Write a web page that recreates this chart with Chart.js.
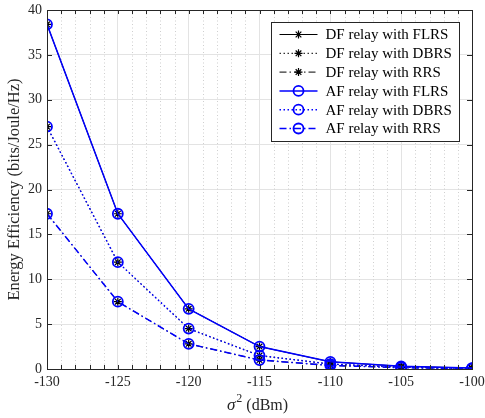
<!DOCTYPE html>
<html>
<head>
<meta charset="utf-8">
<script src="https://cdn.jsdelivr.net/npm/chart.js@4.4.0/dist/chart.umd.min.js"></script>
<style>
  html, body { margin: 0; padding: 0; background: #fff; }
  #wrap { width: 485px; height: 418px; }
</style>
</head>
<body>
<div id="wrap"><canvas id="eeChart"></canvas></div>
<script>
// noise power sigma^2 in dBm
const noiseDbm = [-130, -125, -120, -115, -110, -105, -100];

// energy efficiency (bits/Joule/Hz), DF and AF curves coincide
const dfFlrs = [38.4, 17.3, 6.7, 2.5, 0.8, 0.3, 0.1];
const dfDbrs = [27.0, 11.9, 4.5, 1.5, 0.55, 0.2, 0.07];
const dfRrs  = [17.3, 7.5, 2.8, 1.0, 0.4, 0.15, 0.05];
const afFlrs = [38.4, 17.3, 6.7, 2.5, 0.8, 0.3, 0.1];
const afDbrs = [27.0, 11.9, 4.5, 1.5, 0.55, 0.2, 0.07];
const afRrs  = [17.3, 7.5, 2.8, 1.0, 0.4, 0.15, 0.05];

const seriesLabels = [
    'DF relay with FLRS', 'DF relay with DBRS', 'DF relay with RRS',
    'AF relay with FLRS', 'AF relay with DBRS', 'AF relay with RRS'
];

const FONT = "'Liberation Serif', 'Times New Roman', serif";
const AXIS_COLOR = '#262626';
const SOLID = [];
const DOTTED = [1.5, 2.5];
const DASHDOT = [7, 3, 1.5, 3];

function pts(ys) {
    return noiseDbm.map((x, i) => ({ x: x, y: ys[i] }));
}

function dfSet(label, ys, dash) {
    return {
        label: label, data: pts(ys), borderColor: '#000', backgroundColor: '#000',
        borderWidth: 1, borderDash: dash, pointStyle: 'star', pointRadius: 4,
        pointBorderWidth: 1.2, pointBorderColor: '#000', tension: 0, order: 1
    };
}
function afSet(label, ys, dash) {
    return {
        label: label, data: pts(ys), borderColor: '#0000ff', backgroundColor: 'rgba(0,0,0,0)',
        borderWidth: 1.5, borderDash: dash, pointStyle: 'circle', pointRadius: 5,
        pointBorderWidth: 1.8, pointBorderColor: '#0000ff', tension: 0, order: 0
    };
}

const datasets = [
    dfSet(seriesLabels[0], dfFlrs, SOLID),
    dfSet(seriesLabels[1], dfDbrs, DOTTED),
    dfSet(seriesLabels[2], dfRrs, DASHDOT),
    afSet(seriesLabels[3], afFlrs, SOLID),
    afSet(seriesLabels[4], afDbrs, DOTTED),
    afSet(seriesLabels[5], afRrs, DASHDOT)
];

// dotted minor grid lines on the x axis (every 1 dBm between the majors)
const minorGridPlugin = {
    id: 'minorGrid',
    beforeDatasetsDraw(chart) {
        const ctx = chart.ctx;
        const a = chart.chartArea;
        const xs = chart.scales.x;
        ctx.save();
        ctx.strokeStyle = '#cfcfcf';
        ctx.lineWidth = 1;
        ctx.setLineDash([1, 2.5]);
        ctx.beginPath();
        xs.ticks.forEach(t => {
            if (t.value % 5 === 0) return;
            const px = Math.round(xs.getPixelForValue(t.value)) + 0.5;
            ctx.moveTo(px, a.top); ctx.lineTo(px, a.bottom);
        });
        ctx.stroke();
        ctx.restore();
    }
};

// box around the axes plus inward ticks on all four sides, and the x label
const framePlugin = {
    id: 'frame',
    afterDraw(chart) {
        const ctx = chart.ctx;
        const a = chart.chartArea;
        const xs = chart.scales.x, ys = chart.scales.y;
        ctx.save();
        ctx.strokeStyle = AXIS_COLOR;
        ctx.lineWidth = 1;
        ctx.setLineDash([]);
        ctx.strokeRect(Math.round(a.left) + 0.5, Math.round(a.top) + 0.5,
                       Math.round(a.right - a.left), Math.round(a.bottom - a.top));
        ctx.beginPath();
        xs.ticks.forEach(t => {
            const px = Math.round(xs.getPixelForValue(t.value)) + 0.5;
            const len = 4;
            ctx.moveTo(px, a.bottom); ctx.lineTo(px, a.bottom - len);
            ctx.moveTo(px, a.top); ctx.lineTo(px, a.top + len);
        });
        ys.ticks.forEach(t => {
            const py = Math.round(ys.getPixelForValue(t.value)) + 0.5;
            ctx.moveTo(a.left, py); ctx.lineTo(a.left + 5, py);
            ctx.moveTo(a.right, py); ctx.lineTo(a.right - 5, py);
        });
        ctx.stroke();

        // x axis label: italic sigma, superscript 2, then unit
        const cx = (a.left + a.right) / 2 - 2;
        const by = 410;
        const sig = 'σ', sup = '2', unit = ' (dBm)';
        ctx.fillStyle = AXIS_COLOR;
        ctx.textBaseline = 'alphabetic';
        ctx.font = 'italic 17px ' + FONT;
        const wSig = ctx.measureText(sig).width;
        ctx.font = '12px ' + FONT;
        const wSup = ctx.measureText(sup).width;
        ctx.font = '16px ' + FONT;
        const wUnit = ctx.measureText(unit).width;
        let x = cx - (wSig + wSup + 1 + wUnit) / 2;
        ctx.font = 'italic 17px ' + FONT;
        ctx.fillText(sig, x, by);
        x += wSig + 1;
        ctx.font = '12px ' + FONT;
        ctx.fillText(sup, x, by - 8);
        x += wSup;
        ctx.font = '16px ' + FONT;
        ctx.fillText(unit, x, by);
        ctx.restore();
    }
};

// MATLAB-style legend box: line sample with marker, then label
const legendPlugin = {
    id: 'boxLegend',
    afterDraw(chart) {
        const ctx = chart.ctx;
        const a = chart.chartArea;
        const w = 188, h = 119, rowH = 18.8;
        const x0 = Math.round(a.right - 13 - w) + 0.5;
        const y0 = Math.round(a.top + 12) + 0.5;
        ctx.save();
        ctx.fillStyle = '#fff';
        ctx.fillRect(x0, y0, w, h);
        ctx.strokeStyle = AXIS_COLOR;
        ctx.lineWidth = 1;
        ctx.setLineDash([]);
        ctx.strokeRect(x0, y0, w, h);
        ctx.font = '15px ' + FONT;
        ctx.textBaseline = 'middle';
        chart.data.datasets.forEach((ds, i) => {
            const cy = y0 + 12 + i * rowH;
            ctx.strokeStyle = ds.borderColor;
            ctx.lineWidth = ds.borderWidth;
            ctx.setLineDash(ds.borderDash);
            ctx.beginPath();
            ctx.moveTo(x0 + 8, cy); ctx.lineTo(x0 + 46, cy);
            ctx.stroke();
            ctx.setLineDash([]);
            ctx.strokeStyle = ds.pointBorderColor;
            ctx.fillStyle = ds.backgroundColor;
            ctx.lineWidth = ds.pointBorderWidth;
            Chart.helpers.drawPoint(ctx, {
                pointStyle: ds.pointStyle, radius: ds.pointRadius, borderWidth: ds.pointBorderWidth, rotation: 0
            }, x0 + 27, cy);
            ctx.fillStyle = '#000';
            ctx.fillText(ds.label, x0 + 54, cy + 1);
        });
        ctx.restore();
    }
};

new Chart(document.getElementById('eeChart'), {
    type: 'line',
    data: { datasets: datasets },
    plugins: [minorGridPlugin, framePlugin, legendPlugin],
    options: {
        responsive: true,
        maintainAspectRatio: false,
        animation: false,
        layout: { padding: { top: 10, right: 13, left: 0, bottom: 0 } },
        plugins: { legend: { display: false }, tooltip: { enabled: false } },
        scales: {
            x: {
                type: 'linear',
                min: -130, max: -100,
                afterFit(scale) {
                    scale.height = 49;
                    scale.paddingLeft = 0;
                    scale.paddingRight = 0;
                },
                ticks: {
                    stepSize: 1,
                    autoSkip: false,
                    maxRotation: 0,
                    padding: 5,
                    color: AXIS_COLOR,
                    font: { family: FONT, size: 14 },
                    callback: v => (v % 5 === 0 ? String(v) : '')
                },
                grid: {
                    drawTicks: false,
                    color: ctx => (ctx.tick && ctx.tick.value % 5 === 0 ? '#e3e3e3' : 'rgba(0,0,0,0)'),
                    lineWidth: 1
                },
                border: { display: false },
                title: { display: false }
            },
            y: {
                min: 0, max: 40,
                afterFit(scale) {
                    scale.width = 47;
                    scale.paddingTop = 0;
                    scale.paddingBottom = 0;
                },
                ticks: {
                    stepSize: 5,
                    padding: 5,
                    color: AXIS_COLOR,
                    font: { family: FONT, size: 14 }
                },
                grid: { drawTicks: false, color: '#e3e3e3', lineWidth: 1 },
                border: { display: false },
                title: {
                    display: true,
                    text: 'Energy Efficiency (bits/Joule/Hz)',
                    color: AXIS_COLOR,
                    font: { family: FONT, size: 16.5 },
                    padding: { top: 5, bottom: 0 }
                }
            }
        }
    }
});
</script>
</body>
</html>
